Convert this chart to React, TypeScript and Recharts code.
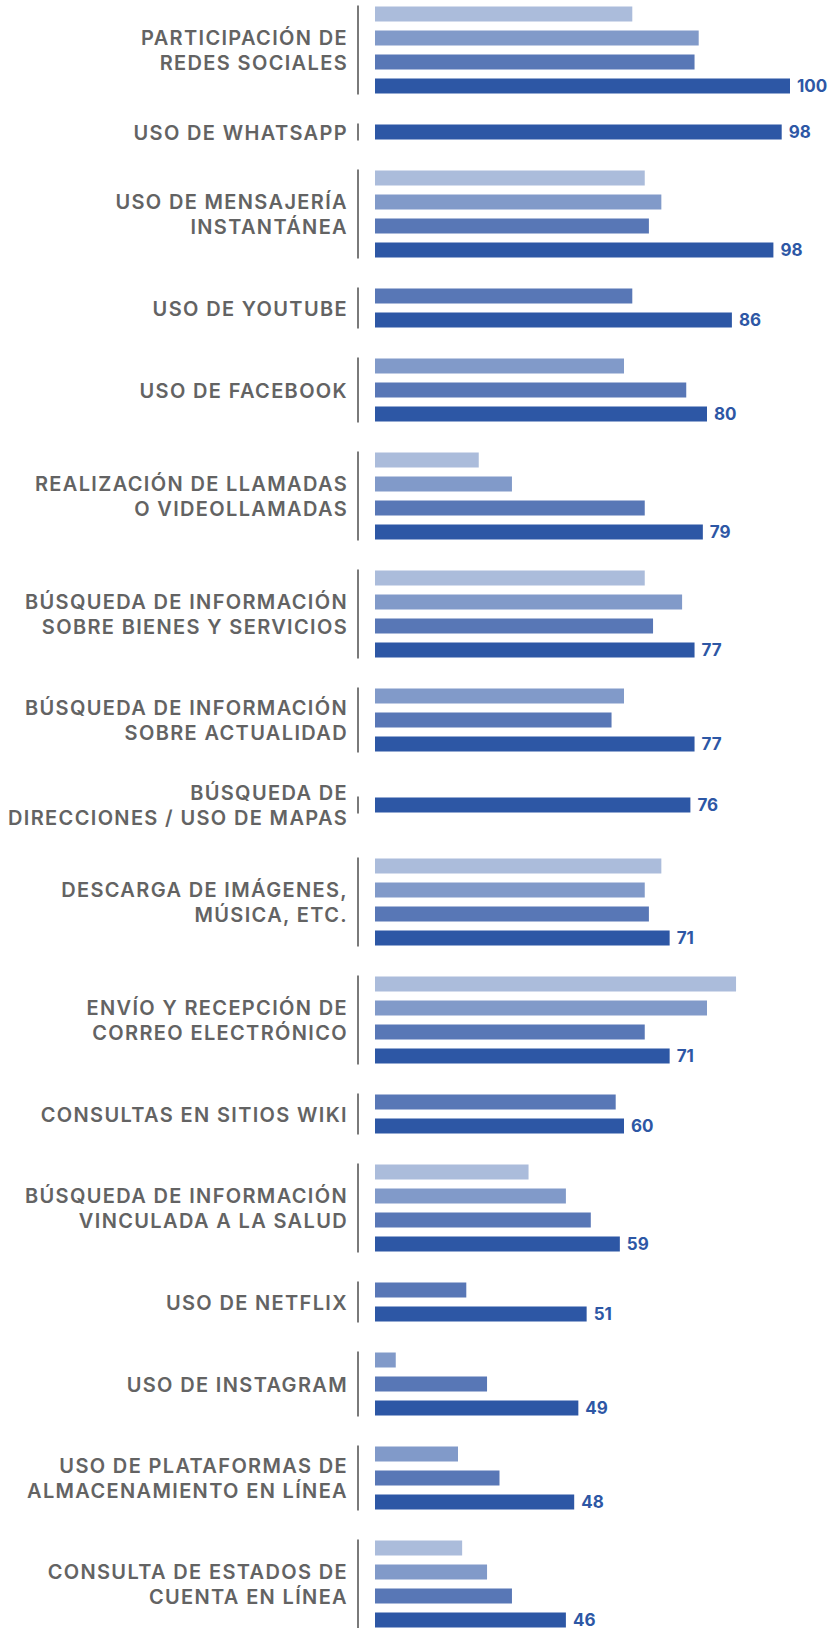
import React from "react";
import { BarChart, Bar, XAxis, YAxis, LabelList } from "recharts";

const CATEGORIES = [
  "PARTICIPACIÓN DE\nREDES SOCIALES",
  "USO DE WHATSAPP",
  "USO DE MENSAJERÍA\nINSTANTÁNEA",
  "USO DE YOUTUBE",
  "USO DE FACEBOOK",
  "REALIZACIÓN DE LLAMADAS\nO VIDEOLLAMADAS",
  "BÚSQUEDA DE INFORMACIÓN\nSOBRE BIENES Y SERVICIOS",
  "BÚSQUEDA DE INFORMACIÓN\nSOBRE ACTUALIDAD",
  "BÚSQUEDA DE\nDIRECCIONES / USO DE MAPAS",
  "DESCARGA DE IMÁGENES,\nMÚSICA, ETC.",
  "ENVÍO Y RECEPCIÓN DE\nCORREO ELECTRÓNICO",
  "CONSULTAS EN SITIOS WIKI",
  "BÚSQUEDA DE INFORMACIÓN\nVINCULADA A LA SALUD",
  "USO DE NETFLIX",
  "USO DE INSTAGRAM",
  "USO DE PLATAFORMAS DE\nALMACENAMIENTO EN LÍNEA",
  "CONSULTA DE ESTADOS DE\nCUENTA EN LÍNEA",
];

// four survey waves, lightest (oldest) to darkest (latest)
const S1 = [62, null, 65, null, null, 25, 65, null, null, 69, 87, null, 37, null, null, null, 21];
const S2 = [78, null, 69, null, 60, 33, 74, 60, null, 65, 80, null, 46, null, 5, 20, 27];
const S3 = [77, null, 66, 62, 75, 65, 67, 57, null, 66, 65, 58, 52, 22, 27, 30, 33];
const S4 = [100, 98, 96, 86, 80, 79, 77, 77, 76, 71, 71, 60, 59, 51, 49, 48, 46];
// numbers printed next to the latest bars
const S4_LABELS = [100, 98, 98, 86, 80, 79, 77, 77, 76, 71, 71, 60, 59, 51, 49, 48, 46];

const SERIES = [
  { key: "s1", values: S1, color: "#abbcdb" },
  { key: "s2", values: S2, color: "#819ac9" },
  { key: "s3", values: S3, color: "#5877b6" },
  { key: "s4", values: S4, color: "#2d57a5" },
];

const BAR_SIZE = 15;
const BAR_GAP = 9;
const PITCH = BAR_SIZE + BAR_GAP;
const GROUP_GAP = 22;
const FONT = "Inter, 'Noto Sans', sans-serif";

function CategoryTick(props: any) {
  const { x, y, payload } = props;
  const lines = String(payload.value).split("\n");
  const lineH = 25;
  return (
    <text
      x={x - 2}
      y={y}
      textAnchor="end"
      fill="#636363"
      fontFamily={FONT}
      fontWeight={600}
      fontSize={20}
      letterSpacing={1.35}
    >
      {lines.map((line, i) => (
        <tspan key={i} x={x - 2} dy={i === 0 ? -((lines.length - 1) * lineH) / 2 + 7.5 : lineH}>
          {line}
        </tspan>
      ))}
    </text>
  );
}

function Group({ index }: { index: number }) {
  const name = CATEGORIES[index];
  const lines = name.split("\n").length;
  const present = SERIES.filter((s) => s.values[index] != null);
  const n = present.length;
  const row: any = { name, label: S4_LABELS[index] };
  present.forEach((s) => (row[s.key] = s.values[index]));

  const plotH = n * BAR_SIZE + (n - 1) * BAR_GAP + 2;
  const blockH = Math.max(n * PITCH, lines > 1 ? 54 : PITCH) + GROUP_GAP;
  const m = (blockH - plotH) / 2;

  return (
    <BarChart
      width={833}
      height={blockH}
      data={[row]}
      layout="vertical"
      margin={{ top: m, bottom: m, left: 0, right: 43 }}
      barGap={BAR_GAP}
      barCategoryGap={0}
    >
      <XAxis type="number" domain={[0, 100]} hide padding={{ left: 17, right: 0 }} />
      <YAxis
        type="category"
        dataKey="name"
        width={358}
        tickLine={false}
        axisLine={{ stroke: "#7a7a7a", strokeWidth: 2 }}
        tick={<CategoryTick />}
        interval={0}
      />
      {present.map((s) => (
        <Bar key={s.key} dataKey={s.key} fill={s.color} barSize={BAR_SIZE} isAnimationActive={false}>
          {s.key === "s4" && (
            <LabelList
              dataKey="label"
              position="right"
              offset={7}
              fill="#2d57a5"
              fontFamily={FONT}
              fontWeight={700}
              fontSize={17}
            />
          )}
        </Bar>
      ))}
    </BarChart>
  );
}

export default function App() {
  return (
    <div style={{ position: "absolute", top: -9, left: 0, width: 833, background: "#fff" }}>
      {CATEGORIES.map((_, i) => (
        <Group key={i} index={i} />
      ))}
    </div>
  );
}
